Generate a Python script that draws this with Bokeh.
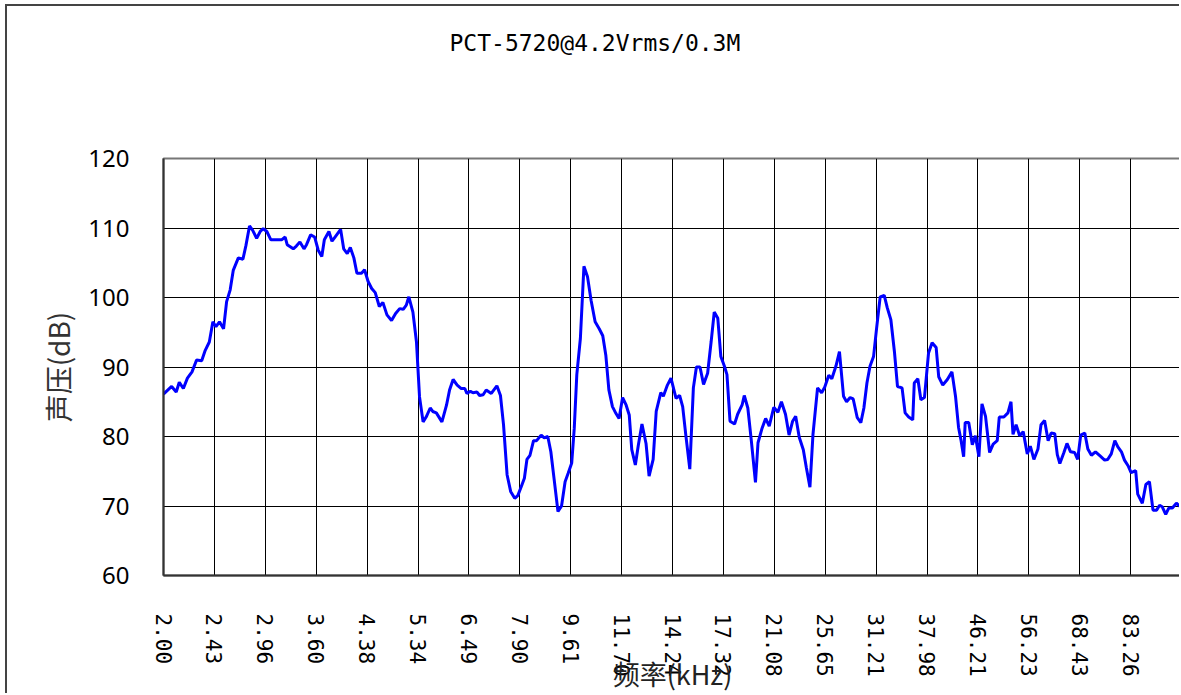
from bokeh.plotting import figure
from bokeh.models import Range1d, FixedTicker, LinearAxis
from bokeh.embed import file_html
from bokeh.resources import INLINE

title_text = "PCT-5720@4.2Vrms/0.3M"
x_title = "频率(kHz)"
y_title = "声压(dB)"

tick_labels = ["2.00", "2.43", "2.96", "3.60", "4.38", "5.34", "6.49", "7.90", "9.61", "11.70",
               "14.24", "17.32", "21.08", "25.65", "31.21", "37.98", "46.21", "56.23", "68.43", "83.26"]

# position along the (log) category axis, in label intervals
pos = [0.00, 0.16, 0.25, 0.31, 0.39, 0.47, 0.56, 0.65, 0.75, 0.82,
       0.90, 0.97, 1.03, 1.10, 1.18, 1.24, 1.31, 1.37, 1.47, 1.56,
       1.62, 1.69, 1.75, 1.83, 1.90, 1.96, 2.03, 2.11, 2.22, 2.32,
       2.39, 2.43, 2.55, 2.61, 2.68, 2.76, 2.81, 2.89, 2.97, 3.04,
       3.11, 3.16, 3.25, 3.31, 3.37, 3.48, 3.54, 3.61, 3.67, 3.74,
       3.80, 3.89, 3.95, 4.02, 4.09, 4.16, 4.24, 4.31, 4.39, 4.48,
       4.56, 4.64, 4.71, 4.77, 4.82, 4.90, 4.97, 5.03, 5.10, 5.16,
       5.24, 5.29, 5.36, 5.47, 5.56, 5.62, 5.69, 5.77, 5.85, 5.92,
       5.96, 6.03, 6.08, 6.16, 6.21, 6.28, 6.34, 6.44, 6.55, 6.62,
       6.68, 6.75, 6.82, 6.90, 6.96, 7.03, 7.09, 7.14, 7.20, 7.27,
       7.33, 7.42, 7.48, 7.55, 7.61, 7.68, 7.75, 7.82, 7.89, 7.95,
       8.02, 8.07, 8.12, 8.19, 8.26, 8.33, 8.40, 8.48, 8.56, 8.63,
       8.69, 8.75, 8.82, 8.89, 8.95, 9.02, 9.09, 9.15, 9.20, 9.27,
       9.33, 9.40, 9.48, 9.54, 9.62, 9.68, 9.77, 9.82, 9.90, 9.97,
       10.07, 10.14, 10.20, 10.26, 10.34, 10.41, 10.47, 10.54, 10.61, 10.69,
       10.76, 10.82, 10.89, 10.95, 11.02, 11.07, 11.13, 11.22, 11.28, 11.37,
       11.41, 11.48, 11.55, 11.63, 11.68, 11.76, 11.83, 11.90, 11.99, 12.07,
       12.14, 12.22, 12.29, 12.36, 12.42, 12.49, 12.57, 12.63, 12.70, 12.76,
       12.85, 12.93, 12.99, 13.07, 13.13, 13.21, 13.28, 13.36, 13.42, 13.49,
       13.55, 13.63, 13.70, 13.76, 13.82, 13.88, 13.95, 14.01, 14.08, 14.16,
       14.22, 14.29, 14.36, 14.42, 14.51, 14.57, 14.64, 14.72, 14.75, 14.82,
       14.88, 14.95, 15.03, 15.10, 15.18, 15.23, 15.31, 15.40, 15.49, 15.56,
       15.62, 15.67, 15.72, 15.75, 15.82, 15.89, 15.95, 16.02, 16.08, 16.15,
       16.23, 16.30, 16.38, 16.42, 16.51, 16.59, 16.65, 16.69, 16.75, 16.82,
       16.89, 16.97, 17.03, 17.10, 17.18, 17.24, 17.31, 17.38, 17.44, 17.51,
       17.56, 17.61, 17.69, 17.75, 17.82, 17.90, 17.96, 18.02, 18.10, 18.16,
       18.23, 18.31, 18.40, 18.49, 18.55, 18.62, 18.69, 18.75, 18.82, 18.88,
       18.95, 19.01, 19.10, 19.14, 19.23, 19.30, 19.37, 19.44, 19.51, 19.57,
       19.62, 19.69, 19.75, 19.82, 19.90, 19.98]

spl = [86.1, 87.2, 86.4, 87.8, 86.9, 88.4, 89.3, 91.0, 90.9, 92.4,
       93.6, 96.5, 95.8, 96.5, 95.5, 99.4, 101.1, 103.9, 105.7, 105.5,
       107.5, 110.3, 109.7, 108.5, 109.5, 109.9, 109.5, 108.3, 108.3, 108.3,
       108.7, 107.6, 107.0, 107.4, 108.0, 107.0, 107.6, 109.0, 108.7, 106.8,
       105.9, 108.3, 109.5, 108.1, 108.7, 109.8, 107.0, 106.3, 107.2, 105.7,
       103.5, 103.5, 104.0, 102.3, 101.3, 100.7, 98.7, 99.3, 97.5, 96.7,
       97.7, 98.4, 98.3, 98.9, 100.1, 97.9, 93.6, 85.7, 82.1, 82.8,
       84.1, 83.6, 83.4, 82.1, 84.5, 86.7, 88.2, 87.4, 86.9, 86.9,
       86.2, 86.5, 86.3, 86.4, 85.9, 86.0, 86.7, 86.2, 87.3, 85.9,
       81.7, 74.5, 72.1, 71.1, 71.5, 72.8, 74.0, 76.7, 77.3, 79.4,
       79.4, 80.2, 79.8, 80.0, 77.8, 73.5, 69.2, 70.0, 73.5, 74.7,
       76.2, 81.2, 88.9, 94.1, 104.5, 103.0, 99.6, 96.5, 95.5, 94.5,
       91.7, 86.7, 84.3, 83.3, 82.6, 85.6, 84.5, 83.1, 78.1, 75.9,
       78.8, 81.8, 79.0, 74.3, 76.7, 83.6, 86.3, 85.8, 87.4, 88.4,
       85.5, 85.9, 84.3, 80.3, 75.3, 87.0, 90.0, 90.0, 87.5, 89.1,
       93.7, 97.9, 97.0, 91.5, 90.1, 88.9, 82.2, 81.8, 83.2, 84.6,
       85.9, 84.1, 79.3, 73.4, 79.1, 81.2, 82.6, 81.5, 84.2, 83.5,
       85.0, 83.2, 80.2, 82.2, 82.9, 79.9, 78.1, 75.5, 72.7, 80.3,
       87.0, 86.3, 87.1, 88.8, 88.3, 90.1, 92.2, 85.8, 85.0, 85.6,
       85.4, 82.7, 82.0, 84.1, 87.7, 90.1, 91.5, 95.6, 100.1, 100.3,
       98.5, 96.8, 92.2, 87.2, 87.0, 83.4, 82.8, 82.4, 87.7, 88.3,
       85.3, 85.6, 92.0, 93.5, 92.8, 88.6, 87.4, 88.2, 89.3, 85.8,
       81.3, 79.4, 77.1, 82.0, 82.0, 78.8, 80.1, 77.1, 84.7, 82.9,
       77.7, 78.9, 79.4, 82.8, 82.8, 83.4, 85.0, 80.3, 81.7, 80.1,
       80.7, 77.5, 78.6, 76.7, 78.2, 81.7, 82.3, 79.4, 80.5, 80.4,
       77.4, 76.1, 77.7, 79.0, 77.8, 77.7, 76.7, 80.2, 80.5, 78.2,
       77.3, 77.8, 77.2, 76.6, 76.7, 77.5, 79.4, 78.5, 77.8, 76.6,
       75.8, 74.8, 75.1, 71.7, 70.4, 73.1, 73.5, 69.4, 69.4, 70.1,
       69.9, 68.8, 69.7, 69.7, 70.4, 69.9]

y_ticks = [60, 70, 80, 90, 100, 110, 120]

n_cat = len(tick_labels)

p = figure(width=1174, height=689, output_backend="svg", toolbar_location=None,
           x_range=Range1d(0, n_cat), y_range=Range1d(60, 120),
           min_border_left=156, min_border_right=0, min_border_top=152, min_border_bottom=120)
p.background_fill_color = "white"
p.border_fill_color = "white"
p.outline_line_color = "#777777"
p.outline_line_width = 2
p.styles = {"margin-left": "5px", "margin-top": "4px",
            "border-left": "2px solid #444444", "border-top": "2px solid #444444"}

p.line(pos, spl, line_color="#0000FF", line_width=3)

# x axis (the default bottom axis)
xa = p.below[0]
xa.ticker = FixedTicker(ticks=list(range(n_cat)))
xa.major_label_overrides = {i: t for i, t in enumerate(tick_labels)}
xa.major_label_orientation = "vertical"
xa.major_label_text_font = "DejaVu Sans Mono"
xa.major_label_text_font_size = "21px"
xa.major_label_text_color = "black"
xa.major_label_standoff = 38
xa.major_tick_in = 0
xa.major_tick_out = 0
xa.minor_tick_in = 0
xa.minor_tick_out = 0
xa.axis_line_color = "#333333"
xa.axis_line_width = 2
xa.axis_label = x_title
xa.axis_label_text_font = "Noto Sans CJK SC"
xa.axis_label_text_font_style = "normal"
xa.axis_label_text_font_size = "27px"
xa.axis_label_text_color = "#222222"
xa.axis_label_standoff = -26

# chart title, drawn as the single label of a blank axis above the frame,
# on a pixel-like range so that it is centred on the whole chart (not the frame)
p.extra_x_ranges = {"title": Range1d(-431, 586)}
title_axis = LinearAxis(x_range_name="title", ticker=FixedTicker(ticks=[0]),
                        major_label_overrides={0: title_text})
title_axis.axis_line_color = None
title_axis.major_tick_in = 0
title_axis.major_tick_out = 0
title_axis.minor_tick_in = 0
title_axis.minor_tick_out = 0
title_axis.major_label_text_font = "DejaVu Sans Mono"
title_axis.major_label_text_font_size = "23px"
title_axis.major_label_text_color = "black"
title_axis.major_label_standoff = 103
p.add_layout(title_axis, "above")

# y axis
ya = p.left[0]
ya.ticker = FixedTicker(ticks=y_ticks)
ya.major_label_text_font = "Noto Sans"
ya.major_label_text_font_size = "24px"
ya.major_label_text_color = "black"
ya.major_label_standoff = 34
ya.major_tick_in = 0
ya.major_tick_out = 0
ya.minor_tick_in = 0
ya.minor_tick_out = 0
ya.axis_line_color = "#333333"
ya.axis_line_width = 2
ya.axis_label = y_title
ya.axis_label_text_font = "Noto Sans CJK SC"
ya.axis_label_text_font_style = "normal"
ya.axis_label_text_font_size = "28px"
ya.axis_label_text_color = "#333333"
ya.axis_label_standoff = 7

p.xgrid.grid_line_color = "black"
p.xgrid.grid_line_width = 1
p.ygrid.grid_line_color = "black"
p.ygrid.grid_line_width = 1

open("out.html", "w").write(file_html(p, INLINE))
